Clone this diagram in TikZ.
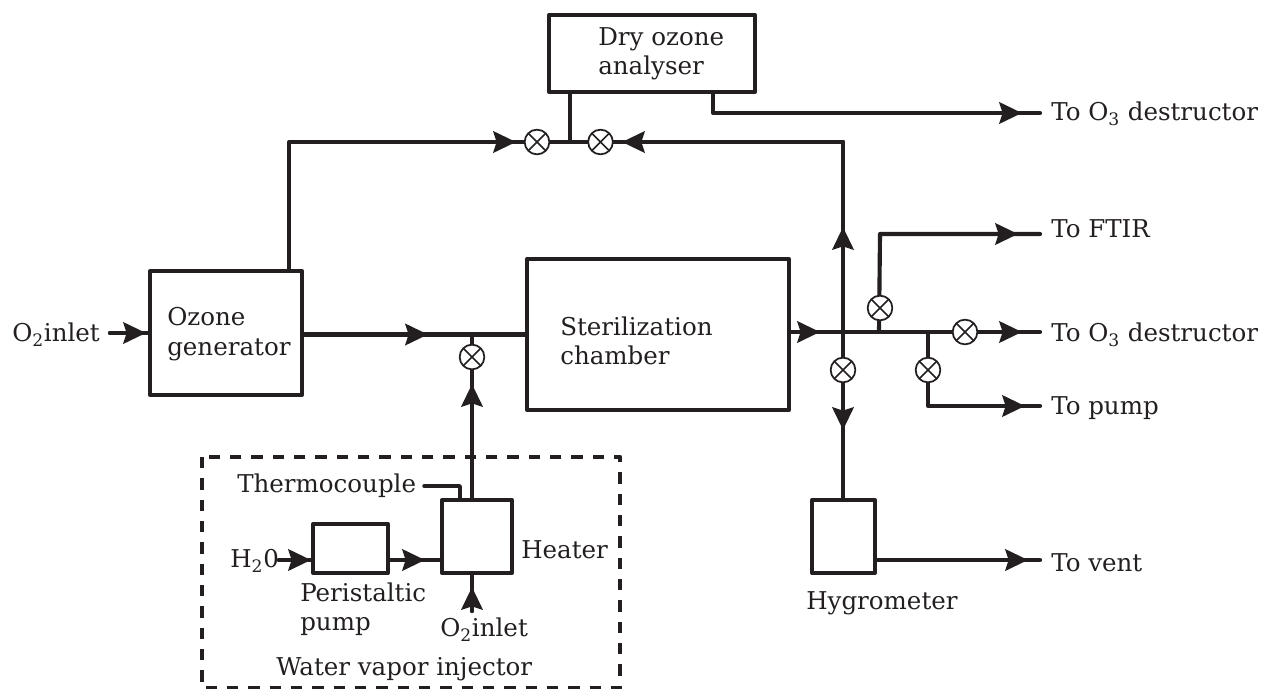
\documentclass[tikz,border=0pt]{standalone}
\usepackage{fontspec}
\usepackage{xcolor}
\setmainfont{DejaVu Serif}
\usetikzlibrary{arrows.meta}
\definecolor{ink}{HTML}{231F20}

\begin{document}
\begin{tikzpicture}[
  x=0.75pt,
  y=-0.75pt,
  >={Stealth[length=17pt,width=16pt,inset=2.5pt]},
  line cap=round,
  line join=round,
  pipe/.style={draw=ink, line width=3.1pt},
  unit/.style={draw=ink, line width=3.1pt, fill=white, inner sep=0pt, outer sep=0pt},
  valve/.style={circle, draw=ink, line width=1.3pt, fill=white, minimum size=18.5pt, inner sep=0pt, outer sep=0pt,
    path picture={\draw[ink, line width=1.2pt]
      (path picture bounding box.north west) -- (path picture bounding box.south east)
      (path picture bounding box.north east) -- (path picture bounding box.south west);}},
  every node/.style={text=ink, font=\fontsize{18.4}{22}\selectfont},
  tag/.style={anchor=west, inner sep=0pt, align=left}
]
  \useasboundingbox (0,0) rectangle (1261,689);

  % Injector outline
  \draw[ink, line width=3.6pt, line cap=butt, dash pattern=on 8.5pt off 7.5pt] (202,457) rectangle (620,688);

  % Units
  \node[unit, minimum width=154.5pt, minimum height=57.75pt] (analyser) at (652,53.5) {};
  \node[unit, minimum width=114pt, minimum height=93pt] (generator) at (226,333) {};
  \node[unit, minimum width=196.5pt, minimum height=113.25pt] (chamber) at (658,334.5) {};
  \node[unit, minimum width=47.25pt, minimum height=54.75pt] (hygro) at (843.5,536.5) {};
  \node[unit, minimum width=52.5pt, minimum height=54.75pt] (heater) at (477,536.5) {};
  \node[unit, minimum width=56.25pt, minimum height=36.75pt] (perist) at (350.5,548.5) {};

  % Pipe corners and free ends
  \coordinate (genup) at (289,271);
  \coordinate (gencorner) at (289,142);
  \coordinate (tee) at (570,142);
  \coordinate (anadown) at (570,92);
  \coordinate (anaout) at (713,92);
  \coordinate (anacorner) at (713,113);
  \coordinate (anaend) at (1040,113);
  \coordinate (split) at (843,142);
  \coordinate (cross) at (843,332);
  \coordinate (hygrotop) at (843,500);
  \coordinate (mainend) at (1040,332);
  \coordinate (ftirfoot) at (879,332);
  \coordinate (ftircorner) at (880,234);
  \coordinate (ftirend) at (1040,234);
  \coordinate (pumpfoot) at (928,332);
  \coordinate (pumpcorner) at (928,406);
  \coordinate (pumpend) at (1040,406);
  \coordinate (ventstart) at (875,560);
  \coordinate (ventend) at (1040,560);
  \coordinate (inletstart) at (110,333);
  \coordinate (mainjoin) at (472,334.5);
  \coordinate (riser) at (472,500);
  \coordinate (waterstart) at (279,560);
  \coordinate (waterend) at (313,560);
  \coordinate (perout) at (388,560);
  \coordinate (heatin) at (442,560);
  \coordinate (oxbottom) at (472,611);
  \coordinate (oxtop) at (472,573);
  \coordinate (thermostart) at (424,486);
  \coordinate (thermocorner) at (460,486);
  \coordinate (thermoend) at (460,500);

  % Pipes
  \draw[pipe] (genup) -- (gencorner) -- (tee);
  \draw[pipe] (split) -- (tee);
  \draw[pipe] (anadown) -- (tee);
  \draw[pipe] (anaout) -- (anacorner) -- (anaend);
  \draw[pipe] (split) -- (hygrotop);
  \draw[pipe] (generator.east |- mainjoin) -- (mainjoin) -- (chamber.west |- mainjoin);
  \draw[pipe] (chamber.east |- cross) -- (cross) -- (mainend);
  \draw[pipe] (ftirfoot) -- (ftircorner) -- (ftirend);
  \draw[pipe] (pumpfoot) -- (pumpcorner) -- (pumpend);
  \draw[pipe] (ventstart) -- (ventend);
  \draw[pipe] (inletstart) -- (generator.west |- inletstart);
  \draw[pipe] (riser) -- (mainjoin);
  \draw[pipe] (waterstart) -- (waterend);
  \draw[pipe] (perout) -- (heatin);
  \draw[pipe] (oxbottom) -- (oxtop);
  \draw[pipe, line width=2.6pt] (thermostart) -- (thermocorner) -- (thermoend);

  % Arrowheads along the pipes
  \draw[pipe, ->] (480,142) -- (516,142);
  \draw[pipe, ->] (660,142) -- (622,142);
  \draw[pipe, ->] (980,113) -- (1022,113);
  \draw[pipe, ->] (843,270) -- (843,227);
  \draw[pipe, ->] (843,395) -- (843,430);
  \draw[pipe, ->] (985,234) -- (1018,234);
  \draw[pipe, ->] (992,332) -- (1022,332);
  \draw[pipe, ->] (990,406) -- (1025,406);
  \draw[pipe, ->] (985,560) -- (1028,560);
  \draw[pipe, ->] (793,332) -- (820,332);
  \draw[pipe, ->] (395,334.5) -- (428,334.5);
  \draw[pipe, ->] (110,333) -- (146,333);
  \draw[pipe, ->] (472,420) -- (472,384);
  \draw[pipe, ->] (279,560) -- (311,560);
  \draw[pipe, ->] (392,560) -- (425,560);
  \draw[pipe, ->] (472,611) -- (472,587);

  % Valves
  \node[valve] (vleft) at (537,142) {};
  \node[valve] (vright) at (600.5,142) {};
  \node[valve] (vinj) at (472,357) {};
  \node[valve] (vhyg) at (843,370) {};
  \node[valve] (vftir) at (880,308) {};
  \node[valve] (vdest) at (965,332) {};
  \node[valve] (vpump) at (928,370) {};

  % Labels
  \node[tag] (lana) at (598,54) {Dry ozone\\analyser};
  \node[tag] (lgen) at (167,334) {Ozone\\generator};
  \node[tag] (lcha) at (560,341) {Sterilization\\chamber};
  \node[tag] (linlet) at (12,335) {O\textsubscript{2}inlet};
  \node[tag] (ldest) at (1051,114) {To O\textsubscript{3} destructor};
  \node[tag] (lftir) at (1051,229) {To FTIR};
  \node[tag] (ldestb) at (1051,335) {To O\textsubscript{3} destructor};
  \node[tag] (lpump) at (1051,408) {To pump};
  \node[tag] (lvent) at (1051,563) {To vent};
  \node[tag] (lhyg) at (806,603) {Hygrometer};
  \node[tag] (lthermo) at (237,486) {Thermocouple};
  \node[tag] (lwater) at (230,561) {H\textsubscript{2}0};
  \node[tag] (lheat) at (521,550) {Heater};
  \node[tag] (lperi) at (300,609) {Peristaltic\\pump};
  \node[tag] (loxy) at (440,630) {O\textsubscript{2}inlet};
  \node[tag] (linj) at (276,669) {Water vapor injector};
\end{tikzpicture}
\end{document}
